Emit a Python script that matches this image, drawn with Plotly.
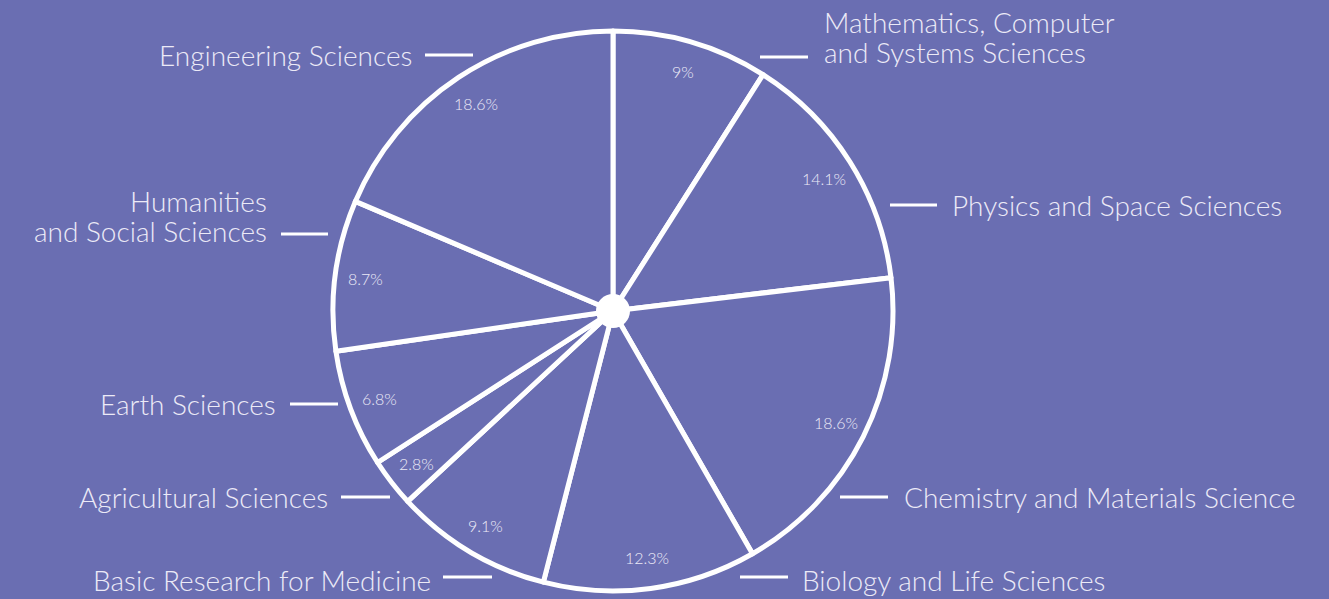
import math
import plotly.graph_objects as go

# ---- data ----
categories = [
    "Mathematics, Computer<br>and Systems Sciences",
    "Physics and Space Sciences",
    "Chemistry and Materials Science",
    "Biology and Life Sciences",
    "Basic Research for Medicine",
    "Agricultural Sciences",
    "Earth Sciences",
    "Humanities<br>and Social Sciences",
    "Engineering Sciences",
]
values = [9, 14.1, 18.6, 12.3, 9.1, 2.8, 6.8, 8.7, 18.6]
pct_labels = ["9%", "14.1%", "18.6%", "12.3%", "9.1%", "2.8%", "6.8%", "8.7%", "18.6%"]

# ---- layout constants ----
W, H = 1329, 599
BG = "#6a6eb2"
TXT = "#eceaf7"
CX, CY, R = 613, 311, 280
LINE_GAP = 30

# outside label layout: (text x, text y centre, anchor, segment x0, segment x1, segment y)
label_layout = [
    (822, 37, "left", 760, 808, 57),
    (950, 205, "left", 890, 937, 205),
    (902, 497, "left", 840, 888, 497),
    (800, 580, "left", 740, 788, 577),
    (433, 580, "right", 443, 492, 577),
    (330, 497, "right", 341, 390, 497),
    (278, 404, "right", 290, 338, 404),
    (269, 216, "right", 281, 328, 234),
    (414, 55, "right", 425, 473, 55),
]


def px(x):
    return x / W


def py(y):
    return 1 - y / H


fig = go.Figure()
fig.add_trace(go.Pie(
    labels=[c.replace("<br>", " ") for c in categories],
    values=values,
    sort=False,
    direction="clockwise",
    rotation=0,
    textinfo="none",
    hoverinfo="label+percent",
    marker=dict(colors=[BG] * len(values), line=dict(color="white", width=5)),
    domain=dict(x=[px(CX - R), px(CX + R)], y=[py(CY + R), py(CY - R)]),
    showlegend=False,
))

annotations = []
shapes = []
total = sum(values)
cum = 0
for i, v in enumerate(values):
    mid = (cum + v / 2) / total * 2 * math.pi
    cum += v
    r = 0.89 * R
    tx = CX + r * math.sin(mid)
    ty = CY - r * math.cos(mid)
    annotations.append(dict(
        x=px(tx), y=py(ty), xref="paper", yref="paper", text=pct_labels[i],
        showarrow=False, xanchor="center", yanchor="middle",
        font=dict(family="Lato", size=16, color=TXT, weight=300),
    ))
    lx, ly, anc, sx0, sx1, sy = label_layout[i]
    lines = categories[i].split("<br>")
    n = len(lines)
    for k, line in enumerate(lines):
        yy = ly + (k - (n - 1) / 2) * LINE_GAP
        ann = dict(
            x=px(lx), y=py(yy), xref="paper", yref="paper", text=line,
            showarrow=False, xanchor=anc, yanchor="middle", align=anc,
            font=dict(family="Lato", size=28, color=TXT, weight=300),
        )
        if n > 1:
            ann["height"] = LINE_GAP
            ann["valign"] = "middle"
        annotations.append(ann)
    shapes.append(dict(
        type="line", xref="paper", yref="paper",
        x0=px(sx0), x1=px(sx1), y0=py(sy), y1=py(sy),
        line=dict(color="white", width=3),
    ))

shapes.append(dict(
    type="circle", xref="paper", yref="paper",
    x0=px(CX - 17), x1=px(CX + 17), y0=py(CY + 17), y1=py(CY - 17),
    fillcolor="white", line=dict(color="white", width=0),
))

fig.update_layout(
    width=W, height=H,
    paper_bgcolor=BG, plot_bgcolor=BG,
    margin=dict(l=0, r=0, t=0, b=0),
    annotations=annotations,
    shapes=shapes,
)

fig.write_html(
    "out.html",
    config={"displayModeBar": False},
    post_script="document.body.style.margin='0';document.body.style.overflow='hidden';"
                "document.body.style.background='" + BG + "';",
)
